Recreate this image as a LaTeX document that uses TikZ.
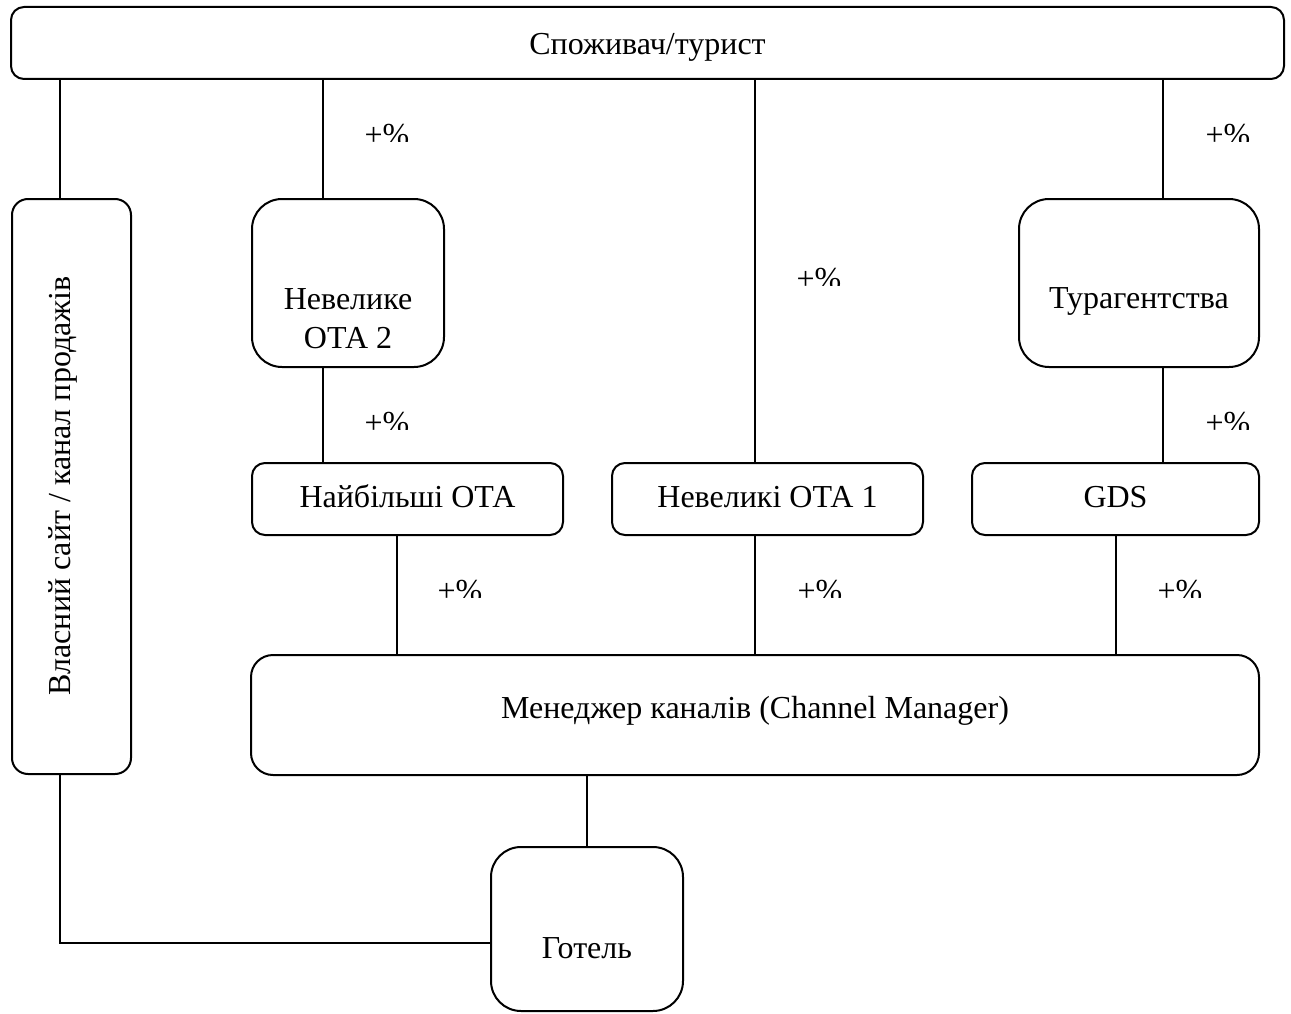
\documentclass[tikz,border=0pt]{standalone}
\usepackage{fontspec}
\setmainfont{Liberation Serif}
\begin{document}
\begin{tikzpicture}[x=1pt,y=-1pt,
  box/.style={draw,line width=2pt,rectangle,inner sep=0pt,outer sep=0pt},
  conn/.style={line width=1.3pt},
  lbl/.style={inner sep=0pt,outer sep=0pt,font=\fontsize{32}{38}\selectfont}]
\useasboundingbox (0,0) rectangle (1291,1014);

% boxes
\node[box,rounded corners=13pt,minimum width=1273pt,minimum height=72pt] (top) at (647.5,43) {};
\node[box,rounded corners=16pt,minimum width=119pt,minimum height=575pt] (own) at (71.5,486.5) {};
\node[box,rounded corners=30pt,minimum width=192pt,minimum height=168pt] (ota2) at (348,283) {};
\node[box,rounded corners=30pt,minimum width=240pt,minimum height=168pt] (tour) at (1139,283) {};
\node[box,rounded corners=13pt,minimum width=311pt,minimum height=72pt] (big) at (407.5,499) {};
\node[box,rounded corners=13pt,minimum width=311pt,minimum height=72pt] (ota1) at (767.5,499) {};
\node[box,rounded corners=13pt,minimum width=287pt,minimum height=72pt] (gds) at (1115.5,499) {};
\node[box,rounded corners=22pt,minimum width=1008pt,minimum height=120pt] (cm) at (755,715) {};
\node[box,rounded corners=30pt,minimum width=192pt,minimum height=164pt] (hotel) at (587,929) {};

% box texts
\node[lbl,anchor=base] (t-top) at (647.5,55) {Споживач/турист};
\node[lbl,anchor=base] (t-ota2a) at (348,309) {Невелике};
\node[lbl,anchor=base] (t-ota2b) at (348,348) {ОТА 2};
\node[lbl,anchor=base] (t-tour) at (1139,308) {Турагентства};
\node[lbl,anchor=base] (t-big) at (407.5,507) {Найбільші ОТА};
\node[lbl,anchor=base] (t-ota1) at (767.5,507) {Невеликі ОТА 1};
\node[lbl,anchor=base] (t-gds) at (1115.5,507) {GDS};
\node[lbl,anchor=base] (t-cm) at (755,718) {Менеджер каналів (Channel Manager)};
\node[lbl,anchor=base] (t-hotel) at (587,958) {Готель};
\node[lbl,anchor=base,rotate=90] (t-own) at (70,486) {Власний сайт / канал продажів};

% connectors
\draw[conn] ([xshift=-11.5pt]own.north) -- ([xshift=-11.5pt]own.north |- top.south);
\draw[conn] ([xshift=-25pt]ota2.north) -- ([xshift=-25pt]ota2.north |- top.south);
\draw[conn] ([xshift=-12.5pt]ota1.north) -- ([xshift=-12.5pt]ota1.north |- top.south);
\draw[conn] ([xshift=24pt]tour.north) -- ([xshift=24pt]tour.north |- top.south);
\draw[conn] ([xshift=-25pt]ota2.south) -- ([xshift=-25pt]ota2.south |- big.north);
\draw[conn] ([xshift=24pt]tour.south) -- ([xshift=24pt]tour.south |- gds.north);
\draw[conn] ([xshift=-10.5pt]big.south) -- ([xshift=-10.5pt]big.south |- cm.north);
\draw[conn] ([xshift=-12.5pt]ota1.south) -- ([xshift=-12.5pt]ota1.south |- cm.north);
\draw[conn] ([xshift=0.5pt]gds.south) -- ([xshift=0.5pt]gds.south |- cm.north);
\draw[conn] (hotel.north) -- (hotel.north |- cm.south);
\draw[conn] ([xshift=-11.5pt]own.south) |- ([yshift=-14pt]hotel.west);

% commission labels, cut off just above their baseline
\newcommand\pctlabel[3]{%
  \begin{scope}
    \clip (#2-40,#3-45) rectangle (#2+40,#3-4);
    \node[lbl,anchor=base] (#1) at (#2,#3) {+\%};
  \end{scope}}
\pctlabel{p1}{387}{146}
\pctlabel{p2}{1228}{146}
\pctlabel{p3}{819}{289}
\pctlabel{p4}{387}{433}
\pctlabel{p5}{1228}{433}
\pctlabel{p6}{460}{601}
\pctlabel{p7}{820}{601}
\pctlabel{p8}{1180}{601}
\end{tikzpicture}
\end{document}
